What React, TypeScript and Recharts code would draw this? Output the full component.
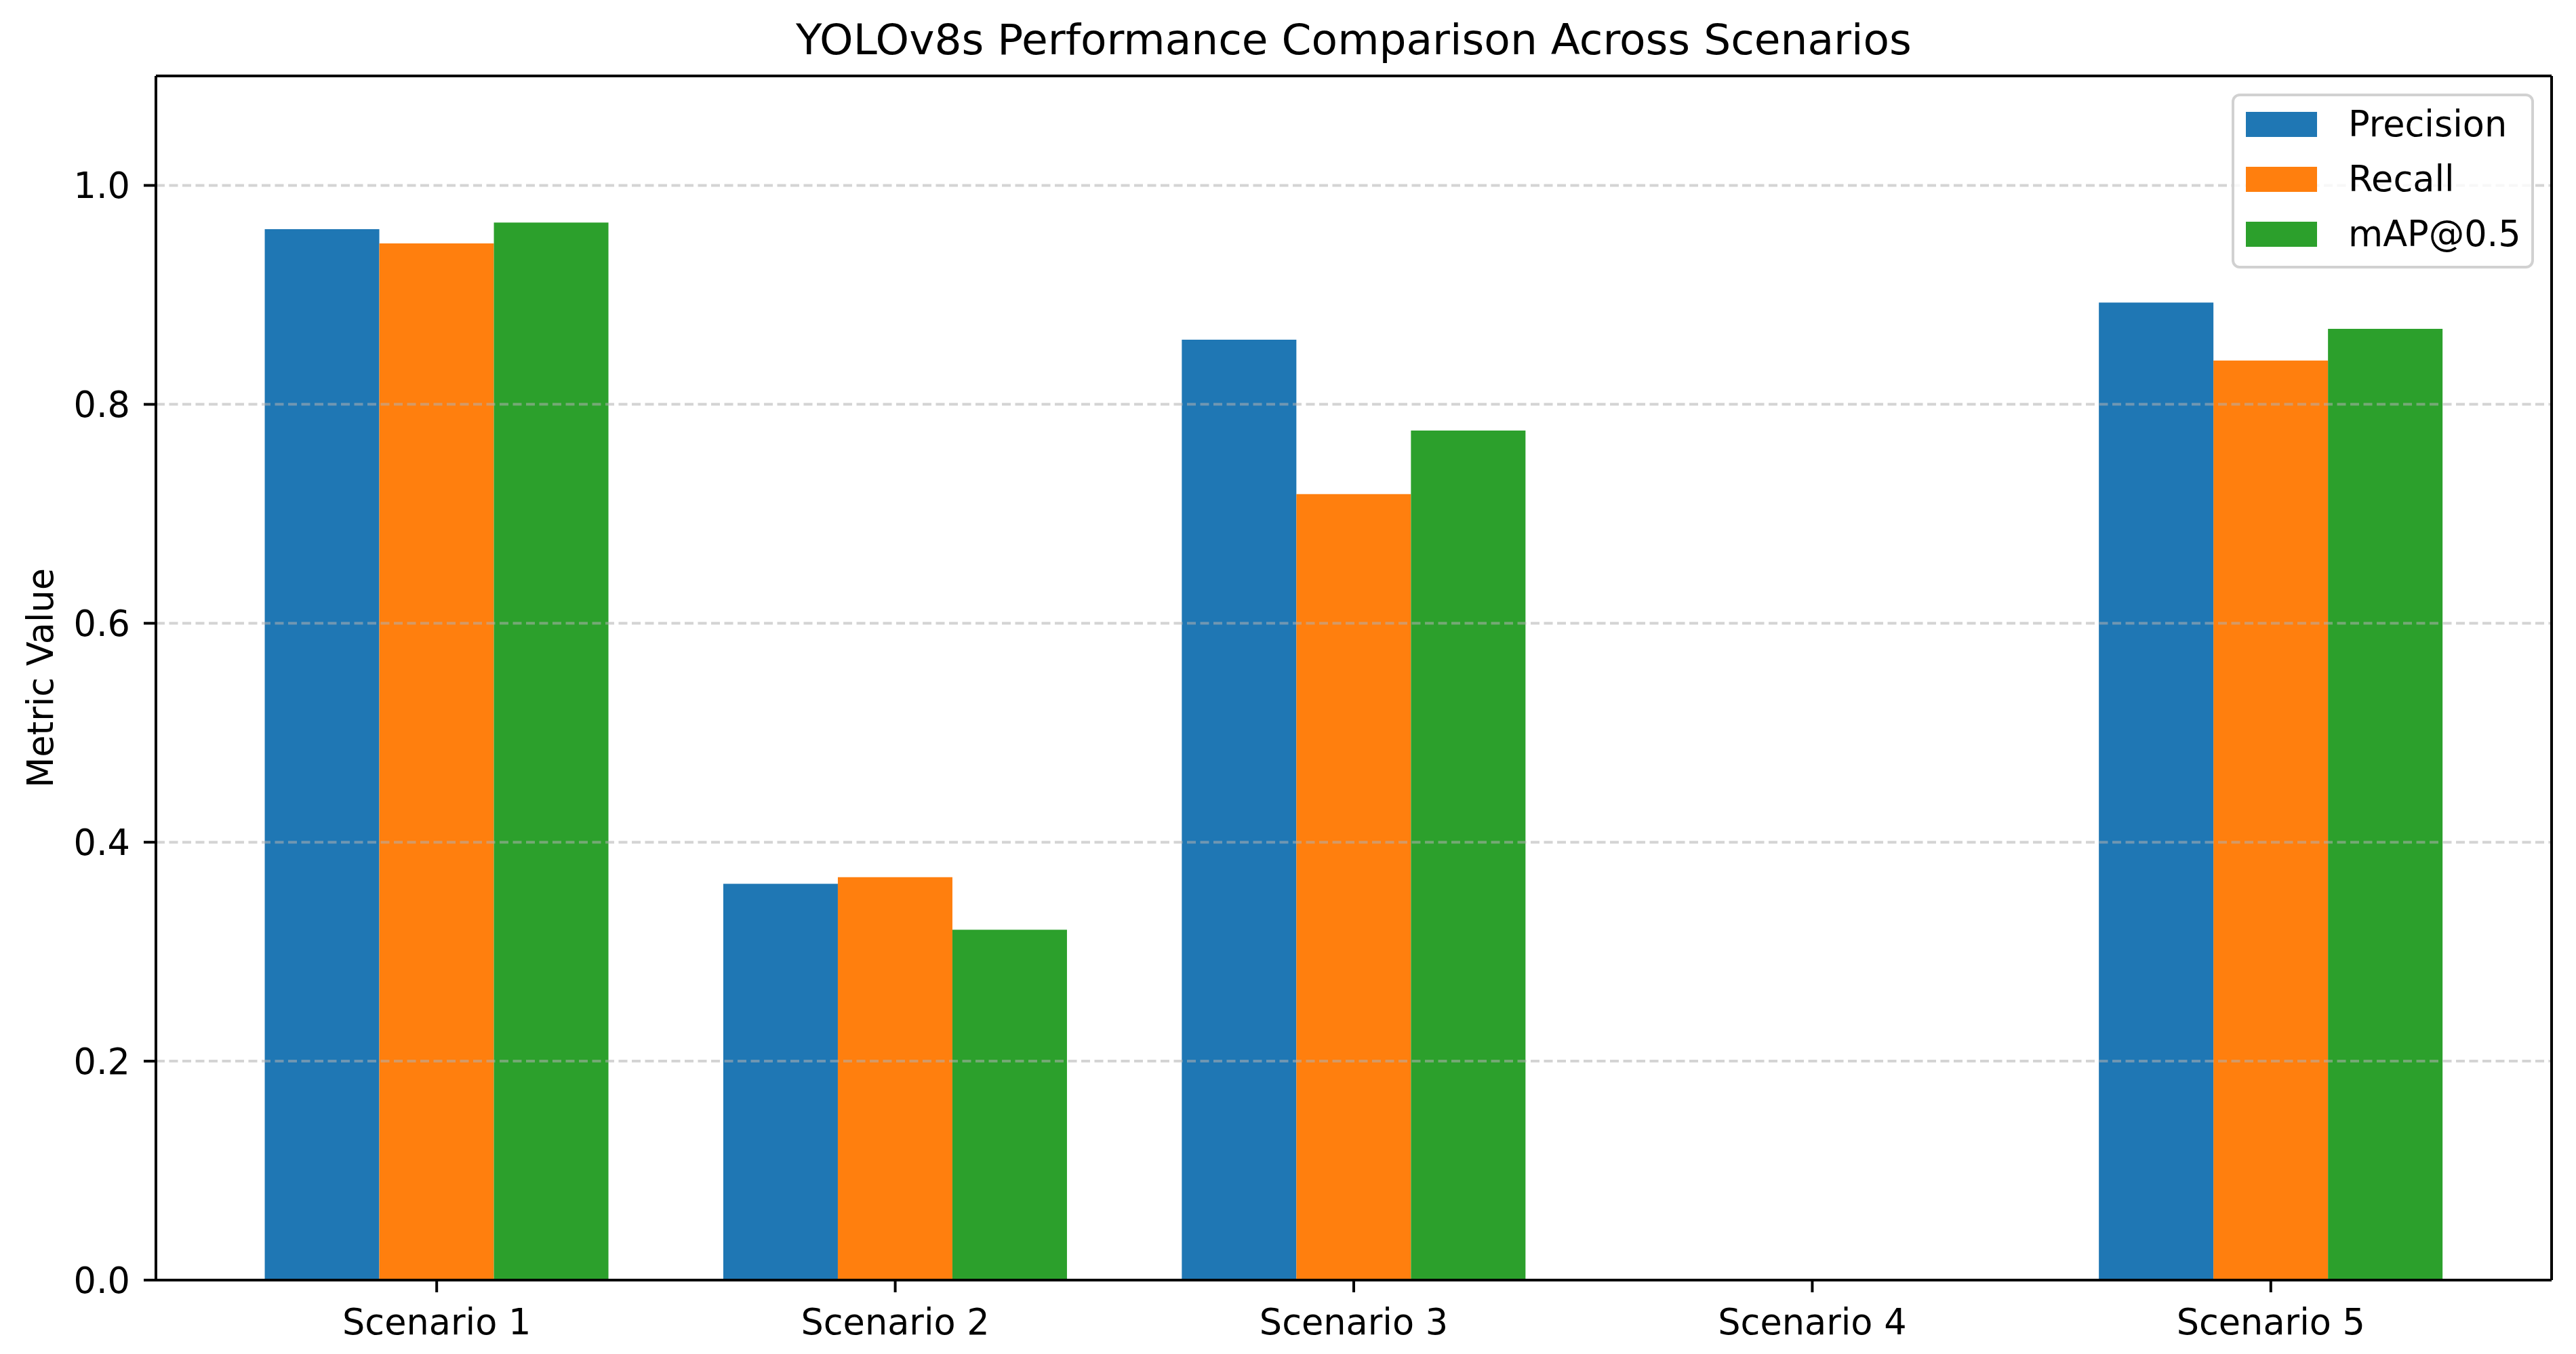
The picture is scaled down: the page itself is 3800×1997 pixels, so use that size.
import React from 'react';
import { BarChart, Bar, XAxis, YAxis, ReferenceLine, Legend } from 'recharts';

const categories = ['Scenario 1', 'Scenario 2', 'Scenario 3', 'Scenario 4', 'Scenario 5'];
const precision = [0.960, 0.362, 0.859, 0, 0.893];
const recall = [0.947, 0.368, 0.718, 0, 0.840];
const map50 = [0.966, 0.320, 0.776, 0, 0.869];

const seriesKeys = ['precision', 'recall', 'map50'];
const seriesNames = ['Precision', 'Recall', 'mAP@0.5'];
const seriesColors = ['#1f77b4', '#ff7f0e', '#2ca02c'];

const yTicks = [0, 0.2, 0.4, 0.6, 0.8, 1.0];
const gridValues = [0.2, 0.4, 0.6, 0.8, 1.0];

const title = 'YOLOv8s Performance Comparison Across Scenarios';
const yLabel = 'Metric Value';

const data = categories.map((c, i) => ({
  name: c,
  precision: precision[i],
  recall: recall[i],
  map50: map50[i],
}));

const FONT = '"DejaVu Sans", sans-serif';
const W = 3800;
const H = 1997;

const renderLegend = (props: any) => {
  const payload = props.payload || [];
  return (
    <div
      style={{
        boxSizing: 'border-box',
        width: 446,
        height: 258,
        border: '4px solid rgba(204,204,204,0.9)',
        borderRadius: 12,
        background: 'rgba(255,255,255,0.8)',
        paddingTop: 1,
        fontFamily: FONT,
      }}
    >
      {payload.map((p: any) => (
        <div key={p.value} style={{ display: 'flex', alignItems: 'center', height: 81 }}>
          <div style={{ width: 105, height: 37, background: p.color, marginLeft: 17 }} />
          <span style={{ marginLeft: 46, fontSize: 52.5, color: '#000', lineHeight: 1 }}>{p.value}</span>
        </div>
      ))}
    </div>
  );
};

export default function App() {
  const axisLine = { stroke: '#000', strokeWidth: 4 };
  const tickStyle = { fill: '#000', fontSize: 52.5, fontFamily: FONT };
  return (
    <div style={{ position: 'fixed', left: 0, top: 0, width: W, height: H, background: '#fff' }}>
      <BarChart
        width={W}
        height={H}
        data={data}
        margin={{ top: 0, right: 0, bottom: 0, left: 0 }}
        barGap={0}
        barCategoryGap="12.5%"
      >
        <XAxis
          dataKey="name"
          height={109}
          padding={{ left: 76, right: 76 }}
          tickSize={18}
          tickMargin={25}
          interval={0}
          axisLine={axisLine}
          tickLine={axisLine}
          tick={tickStyle}
        />
        <XAxis
          xAxisId="top"
          orientation="top"
          dataKey="name"
          height={112}
          padding={{ left: 76, right: 76 }}
          tick={false}
          tickLine={false}
          axisLine={axisLine}
        />
        <YAxis
          domain={[0, 1.1]}
          ticks={yTicks}
          interval={0}
          tickFormatter={(v: number) => v.toFixed(1)}
          width={230}
          tickSize={18}
          tickMargin={20}
          axisLine={axisLine}
          tickLine={axisLine}
          tick={tickStyle}
        />
        <YAxis
          yAxisId="right"
          orientation="right"
          domain={[0, 1.1]}
          width={36}
          tick={false}
          tickLine={false}
          axisLine={axisLine}
        />
        {seriesKeys.map((k, i) => (
          <Bar key={k} dataKey={k} name={seriesNames[i]} fill={seriesColors[i]} isAnimationActive={false} />
        ))}
        {gridValues.map((v) => (
          <ReferenceLine
            key={v}
            y={v}
            stroke="#b0b0b0"
            strokeOpacity={0.55}
            strokeWidth={4}
            strokeDasharray="13 6.5"
            zIndex={450}
          />
        ))}
        <Legend
          layout="vertical"
          align="center"
          verticalAlign="middle"
          wrapperStyle={{ left: 3292, top: 138, width: 446, height: 258 }}
          content={renderLegend}
        />
        <text x={1997} y={80} textAnchor="middle" fontSize={63} fontFamily={FONT} fill="#000">
          {title}
        </text>
        <text
          x={78}
          y={1000}
          textAnchor="middle"
          fontSize={52.5}
          fontFamily={FONT}
          fill="#000"
          transform="rotate(-90, 78, 1000)"
        >
          {yLabel}
        </text>
      </BarChart>
    </div>
  );
}
